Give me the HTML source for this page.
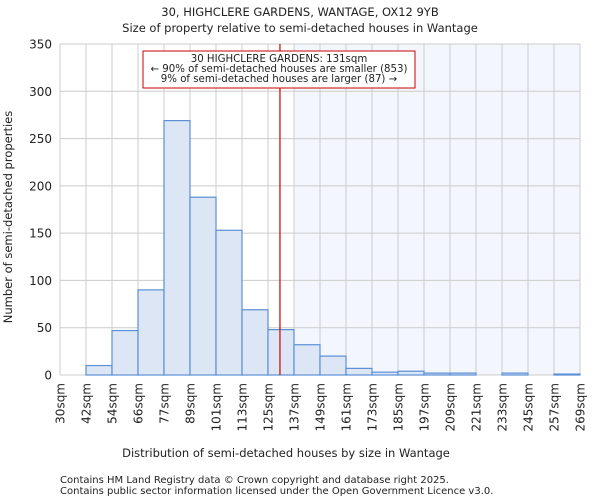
<!DOCTYPE html>
<html><head><meta charset="utf-8"><style>
body{margin:0;background:#fff;font-family:"DejaVu Sans","Liberation Sans",sans-serif}
svg text{font-family:"DejaVu Sans","Liberation Sans",sans-serif;fill:#222}
</style></head><body>
<svg id="chart" width="600" height="500">
<text x="300" y="16" text-anchor="middle" font-size="11.5">30, HIGHCLERE GARDENS, WANTAGE, OX12 9YB</text>
<text x="300" y="32" text-anchor="middle" font-size="11.5">Size of property relative to semi-detached houses in Wantage</text>
<g id="plot"></g>
<text x="286" y="457" text-anchor="middle" font-size="11.5">Distribution of semi-detached houses by size in Wantage</text>
<text transform="translate(12,217) rotate(-90)" text-anchor="middle" font-size="11.5">Number of semi-detached properties</text>
<text x="60" y="483" font-size="10" fill="#444">Contains HM Land Registry data © Crown copyright and database right 2025.</text>
<text x="60" y="494" font-size="10" fill="#444">Contains public sector information licensed under the Open Government Licence v3.0.</text>
</svg>
<script>
const binLabels=["30sqm","42sqm","54sqm","66sqm","77sqm","89sqm","101sqm","113sqm","125sqm","137sqm","149sqm","161sqm","173sqm","185sqm","197sqm","209sqm","221sqm","233sqm","245sqm","257sqm","269sqm"];
const counts=[0,10,47,90,269,188,153,69,48,32,20,7,3,4,2,2,0,2,0,1];
const yTicks=[0,50,100,150,200,250,300,350];
const subjectBinPos=8.46;
const NS="http://www.w3.org/2000/svg";
const L=60,R=580,T=44,B=375,yMax=350;
const n=counts.length;
const bw=(R-L)/n;
const xs=i=>L+i*bw;
const ys=v=>B-v/yMax*(B-T);
const g=document.getElementById('plot');
function mk(tag,attrs){const e=document.createElementNS(NS,tag);for(const k in attrs)e.setAttribute(k,attrs[k]);g.appendChild(e);return e;}
const sub=xs(subjectBinPos);
let sh=mk('rect',{x:xs(9),y:T,width:R-xs(9),height:B-T,fill:'#f3f6fd'});


yTicks.forEach(v=>{
 let l=mk('line',{x1:L,x2:R,y1:ys(v),y2:ys(v),stroke:'#ccc'});
 
 
 let t=mk('text',{x:L-8,y:ys(v)+4.5,'text-anchor':'end','font-size':'12'});t.textContent=v;
 
 
});
binLabels.forEach((s,i)=>{
 let l=mk('line',{x1:xs(i),x2:xs(i),y1:T,y2:B,stroke:'#ccc'});
 
 
 let t=mk('text',{transform:`translate(${xs(i)+4.5},${B+8}) rotate(-90)`,'text-anchor':'end','font-size':'12'});t.textContent=s;
 
 
});
counts.forEach((c,i)=>{
 if(c<=0)return;
 let r=mk('rect',{x:xs(i),y:ys(c),width:bw,height:B-ys(c),fill:'#dce6f5',stroke:'#5b8fd6','stroke-width':1.2});
 
 
});
let rl=mk('line',{x1:sub,x2:sub,y1:T,y2:B,stroke:'#cc0000','stroke-width':1.2});


let box=mk('rect',{x:143,y:51,width:272,height:37,fill:'#fff',stroke:'#cc0000'});


["30 HIGHCLERE GARDENS: 131sqm","← 90% of semi-detached houses are smaller (853)","9% of semi-detached houses are larger (87) →"].forEach((s,k)=>{
 let t=mk('text',{x:279,y:62+k*10,'text-anchor':'middle','font-size':'10.2'});t.textContent=s;
 
 
});
</script>
</body></html>
